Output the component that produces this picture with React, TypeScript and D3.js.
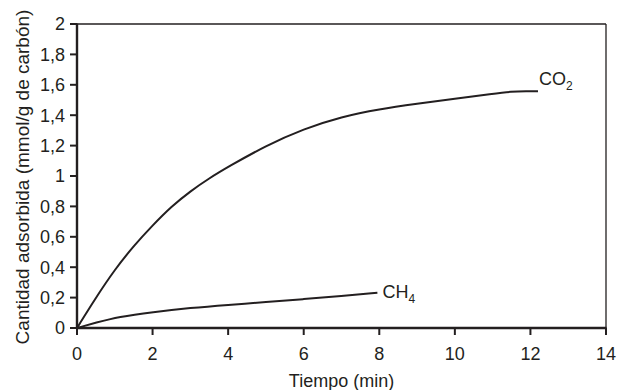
import React from "react";
import * as d3 from "d3";

const co2T = [0, 0.5, 1, 1.5, 2, 2.5, 3, 3.5, 4, 5, 6, 7, 8, 9, 10, 11, 11.5, 11.9, 12.2];
const co2V = [0, 0.2, 0.385, 0.54, 0.675, 0.8, 0.9, 0.985, 1.06, 1.2, 1.31, 1.39, 1.44, 1.475, 1.508, 1.54, 1.556, 1.558, 1.558];
const ch4T = [0, 0.5, 1.1, 2, 3, 4, 5, 6, 7, 7.95];
const ch4V = [0, 0.035, 0.074, 0.105, 0.132, 0.152, 0.17, 0.19, 0.21, 0.232];
const xTicks = [0, 2, 4, 6, 8, 10, 12, 14];
const yTicks = [0, 0.2, 0.4, 0.6, 0.8, 1, 1.2, 1.4, 1.6, 1.8, 2];

const W = 622, H = 390;
const L = 77, R = 606, T = 24, B = 328;
const ink = "#231f20";
const font = "'Liberation Sans', Arial, sans-serif";

export default function App() {
  const x = d3.scaleLinear().domain([0, 14]).range([L, R]);
  const y = d3.scaleLinear().domain([0, 2]).range([B, T]);
  const line = d3
    .line<[number, number]>()
    .x((d) => x(d[0]))
    .y((d) => y(d[1]))
    .curve(d3.curveBasis);
  const co2 = co2T.map((t, i) => [t, co2V[i]] as [number, number]);
  const ch4 = ch4T.map((t, i) => [t, ch4V[i]] as [number, number]);
  const fmt = (v: number) => String(+v.toFixed(1)).replace(".", ",");
  const co2End = co2[co2.length - 1];
  const ch4End = ch4[ch4.length - 1];
  return (
    <svg width={W} height={H} style={{ position: "absolute", left: 0, top: 0, background: "#fff" }} fontFamily={font}>
      <rect x={0} y={0} width={W} height={H} fill="#fff" />
      <line x1={L} x2={R} y1={T} y2={T} stroke={ink} strokeWidth={1.3} />
      <line x1={R} x2={R} y1={T} y2={B} stroke={ink} strokeWidth={1.3} />
      <line x1={L} x2={L} y1={T - 0.6} y2={B + 1} stroke={ink} strokeWidth={2.4} />
      <line x1={L - 1} x2={R + 0.6} y1={B} y2={B} stroke={ink} strokeWidth={2.4} />
      {yTicks.map((v) => (
        <g key={"y" + v}>
          <line x1={L - 7} x2={L} y1={y(v)} y2={y(v)} stroke={ink} strokeWidth={2} />
          <text x={L - 12} y={y(v)} dy="0.36em" textAnchor="end" fontSize={18} fill={ink}>
            {fmt(v)}
          </text>
        </g>
      ))}
      {xTicks.map((v) => (
        <g key={"x" + v}>
          <line x1={x(v)} x2={x(v)} y1={B} y2={B + 7} stroke={ink} strokeWidth={2} />
          <text x={x(v)} y={360} textAnchor="middle" fontSize={18} fill={ink}>
            {v}
          </text>
        </g>
      ))}
      <path d={line(co2) || ""} fill="none" stroke={ink} strokeWidth={2} />
      <path d={line(ch4) || ""} fill="none" stroke={ink} strokeWidth={2} />
      <text x={x(co2End[0]) + 1} y={85} fontSize={18} fill={ink}>
        CO<tspan fontSize={12} dy={5}>2</tspan>
      </text>
      <text x={x(ch4End[0]) + 5} y={y(ch4End[1]) + 5} fontSize={18} fill={ink}>
        CH<tspan fontSize={12} dy={5}>4</tspan>
      </text>
      <text x={(L + R) / 2} y={387} textAnchor="middle" fontSize={18} fill={ink}>
        Tiempo (min)
      </text>
      <text transform={`translate(29, ${(T + B) / 2 + 1}) rotate(-90)`} textAnchor="middle" fontSize={19} fill={ink}>
        Cantidad adsorbida (mmol/g de carbón)
      </text>
    </svg>
  );
}
